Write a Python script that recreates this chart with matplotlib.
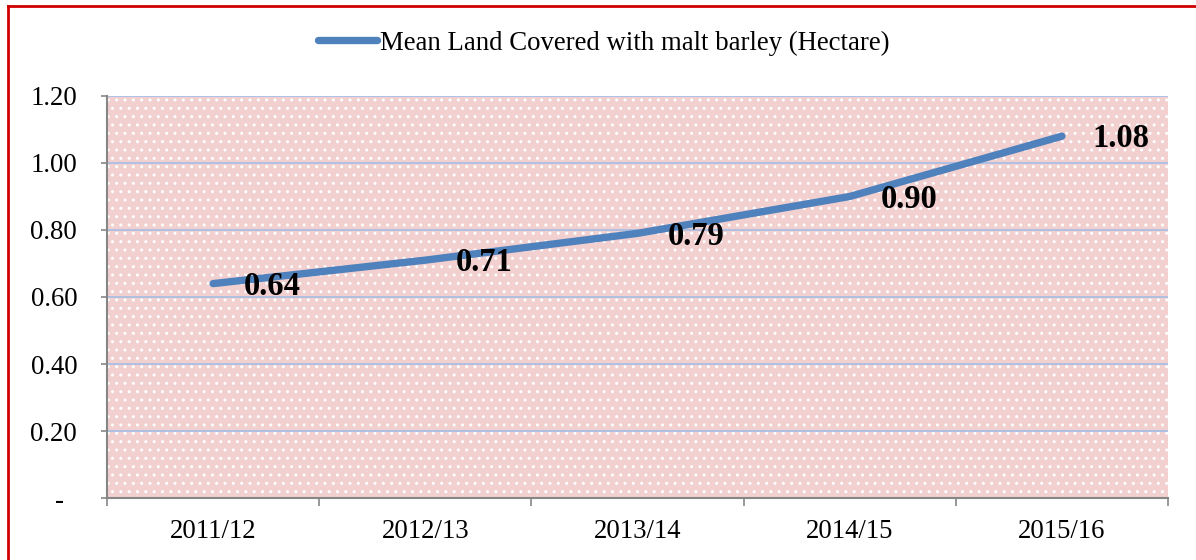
import matplotlib
matplotlib.use("Agg")
import matplotlib.pyplot as plt
from matplotlib.patches import Rectangle
from matplotlib.lines import Line2D

# ── Data ──────────────────────────────────────────────
seasons = ["2011/12", "2012/13", "2013/14", "2014/15", "2015/16"]
mean_land = [0.64, 0.71, 0.79, 0.90, 1.08]
y_ticks = [0.0, 0.2, 0.4, 0.6, 0.8, 1.0, 1.2]
y_tick_labels = ["-  ", "0.20", "0.40", "0.60", "0.80", "1.00", "1.20"]
series_label = "Mean Land Covered with malt barley (Hectare)"

LINE_COLOR = "#4f81bd"
GRID_COLOR = "#a9bfe5"
SPINE_COLOR = "#868686"
FONT = ["Liberation Serif", "DejaVu Serif"]

plt.rcParams["font.family"] = FONT
plt.rcParams["hatch.color"] = "white"
plt.rcParams["hatch.linewidth"] = 1.0

fig = plt.figure(figsize=(11.96, 5.6), dpi=100)
ax = fig.add_axes([0.0895, 0.1107, 0.8871, 0.7179])

x = list(range(len(seasons)))

# patterned plot area
ax.set_facecolor("#f2d0d0")
ax.add_patch(Rectangle((0, 0), 1, 1, transform=ax.transAxes, facecolor="none",
                       hatch="..", edgecolor="white", lw=0, zorder=0.5))

for yv in y_ticks[1:]:
    ax.axhline(yv, color=GRID_COLOR, lw=1.3, zorder=1)

ax.plot(x, mean_land, color=LINE_COLOR, lw=5.3, solid_capstyle="round",
        solid_joinstyle="round", zorder=3, label=series_label)

for xi, v in zip(x, mean_land):
    ax.annotate(f"{v:.2f}", (xi, v), xytext=(22, -2), textcoords="offset points",
                ha="left", va="center", fontsize=23.5, fontweight="bold",
                color="black", zorder=4)

ax.set_xlim(-0.5, len(seasons) - 0.5)
ax.set_ylim(0, 1.2)
ax.set_yticks(y_ticks)
ax.set_yticklabels(y_tick_labels, fontsize=19.3)
ax.set_xticks(x)
ax.set_xticklabels(seasons, fontsize=19.3)
ax.set_xticks([i - 0.5 for i in range(len(seasons) + 1)], minor=True)
ax.tick_params(axis="x", which="major", length=0, pad=15)
ax.tick_params(axis="x", which="minor", length=6, width=1.2, color=SPINE_COLOR)
ax.tick_params(axis="y", length=4, width=1.2, color=SPINE_COLOR, pad=17.5)
for lbl in ax.get_yticklabels():
    lbl.set_horizontalalignment("right")

for side in ["top", "right"]:
    ax.spines[side].set_visible(False)
for side in ["left", "bottom"]:
    ax.spines[side].set_color(SPINE_COLOR)
    ax.spines[side].set_linewidth(1.5)

handle = Line2D([], [], color=LINE_COLOR, lw=5.3, solid_capstyle="round")
fig.legend([handle], [series_label], loc="center", bbox_to_anchor=(0.505, 0.923),
           frameon=False, fontsize=19.3, handlelength=2.2, handletextpad=0.1)

# red outer frame (left and top edges visible)
fig.add_artist(Line2D([0.0065, 0.0065], [0, 0.99], transform=fig.transFigure,
                      color="#d00000", lw=2))
fig.add_artist(Line2D([0.0065, 1.0], [0.99, 0.99], transform=fig.transFigure,
                      color="#d00000", lw=2))

fig.savefig("out.png", dpi=100)
